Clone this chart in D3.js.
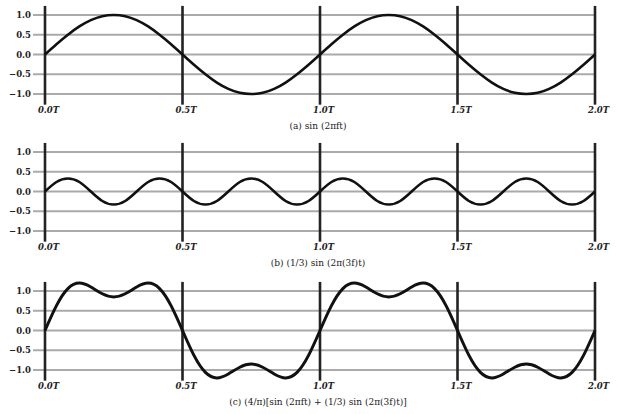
<!DOCTYPE html>
<html>
<head>
<meta charset="utf-8">
<script src="https://cdn.jsdelivr.net/npm/d3@7"></script>
<style>
  body { margin: 0; background: #fff; }
  text { font-family: "DejaVu Serif", serif; fill: #222; }
</style>
</head>
<body>
<div class="chart"></div>
<script>
var svgWidth = 640;
var svgHeight = 414;

// sample times in units of T (step T/24)
var times = d3.range(0, 49).map(k => k / 24);

// y tick labels & x tick labels
var yTicks = [1.0, 0.5, 0.0, -0.5, -1.0];
var xTicks = [0, 0.5, 1.0, 1.5, 2.0];
var xTickLabels = ["0.0T", "0.5T", "1.0T", "1.5T", "2.0T"];

// values
var seriesA = [0, 0.26, 0.5, 0.71, 0.87, 0.97, 1.0, 0.97, 0.87, 0.71, 0.5, 0.26,
  0, -0.26, -0.5, -0.71, -0.87, -0.97, -1.0, -0.97, -0.87, -0.71, -0.5, -0.26,
  0, 0.26, 0.5, 0.71, 0.87, 0.97, 1.0, 0.97, 0.87, 0.71, 0.5, 0.26,
  0, -0.26, -0.5, -0.71, -0.87, -0.97, -1.0, -0.97, -0.87, -0.71, -0.5, -0.26, 0];

var seriesB = [0, 0.24, 0.33, 0.24, 0, -0.24, -0.33, -0.24,
  0, 0.24, 0.33, 0.24, 0, -0.24, -0.33, -0.24,
  0, 0.24, 0.33, 0.24, 0, -0.24, -0.33, -0.24,
  0, 0.24, 0.33, 0.24, 0, -0.24, -0.33, -0.24,
  0, 0.24, 0.33, 0.24, 0, -0.24, -0.33, -0.24,
  0, 0.24, 0.33, 0.24, 0, -0.24, -0.33, -0.24, 0];

var seriesC = [0, 0.63, 1.06, 1.2, 1.1, 0.93, 0.85, 0.93, 1.1, 1.2, 1.06, 0.63,
  0, -0.63, -1.06, -1.2, -1.1, -0.93, -0.85, -0.93, -1.1, -1.2, -1.06, -0.63,
  0, 0.63, 1.06, 1.2, 1.1, 0.93, 0.85, 0.93, 1.1, 1.2, 1.06, 0.63,
  0, -0.63, -1.06, -1.2, -1.1, -0.93, -0.85, -0.93, -1.1, -1.2, -1.06, -0.63, 0];

var captions = [
  "(a) sin (2\u03C0ft)",
  "(b) (1/3) sin (2\u03C0(3f)t)",
  "(c) (4/\u03C0)[sin (2\u03C0ft) + (1/3) sin (2\u03C0(3f)t)]"
];

var panels = [
  { values: seriesA, top: 15, caption: captions[0], stroke: 2.6 },
  { values: seriesB, top: 152, caption: captions[1], stroke: 2.6 },
  { values: seriesC, top: 291, caption: captions[2], stroke: 3.0 }
];

var svg = d3.select(".chart")
  .append("svg")
  .attr("width", svgWidth)
  .attr("height", svgHeight);

var xScale = d3.scaleLinear().domain([0, 2]).range([45, 595]);
var panelH = 79;

panels.forEach(function (p) {
  var g = svg.append("g").attr("transform", `translate(0, ${p.top})`);

  var yScale = d3.scaleLinear().domain([-1, 1]).range([panelH, 0]);

  // horizontal grid lines
  g.selectAll(".hgrid")
    .data(yTicks)
    .enter()
    .append("line")
    .attr("x1", 33)
    .attr("x2", xScale(2))
    .attr("y1", d => yScale(d))
    .attr("y2", d => yScale(d))
    .attr("stroke", "#aaa")
    .attr("stroke-width", 2);

  // y labels
  var leftAxis = d3.axisLeft(yScale)
    .tickValues(yTicks)
    .tickSize(0)
    .tickPadding(0)
    .tickFormat(d3.format(".1f"));
  var yAxis = g.append("g")
    .attr("transform", "translate(31, 0)")
    .call(leftAxis);
  yAxis.select(".domain").remove();
  yAxis.selectAll("text")
    .attr("font-family", "DejaVu Serif")
    .attr("font-size", 8.5)
    .attr("font-weight", "bold")
    .attr("fill", "#333");

  // vertical period lines
  g.selectAll(".vline")
    .data(xTicks)
    .enter()
    .append("line")
    .attr("x1", d => xScale(d))
    .attr("x2", d => xScale(d))
    .attr("y1", yScale(1.23))
    .attr("y2", yScale(-1.27))
    .attr("stroke", "#222")
    .attr("stroke-width", 2.6);

  // x labels
  var bottomAxis = d3.axisBottom(xScale)
    .tickValues(xTicks)
    .tickSize(0)
    .tickPadding(0)
    .tickFormat((d, i) => xTickLabels[i]);
  var xAxis = g.append("g")
    .attr("transform", `translate(3, ${panelH + 13})`)
    .call(bottomAxis);
  xAxis.select(".domain").remove();
  xAxis.selectAll("text")
    .attr("font-family", "DejaVu Serif")
    .attr("font-size", 8.5)
    .attr("font-weight", "bold")
    .attr("font-style", "italic")
    .attr("fill", "#333");

  // waveform
  var line = d3.line()
    .x((d, i) => xScale(times[i]))
    .y(d => yScale(d))
    .curve(d3.curveNatural);

  g.append("path")
    .datum(p.values)
    .attr("d", line)
    .attr("fill", "none")
    .attr("stroke", "#111")
    .attr("stroke-width", p.stroke)
    .attr("stroke-linejoin", "round");

  // caption
  g.append("text")
    .attr("x", 318)
    .attr("y", panelH + 35)
    .attr("text-anchor", "middle")
    .attr("font-size", 9)
    .attr("fill", "#333")
    .text(p.caption);
});
</script>
</body>
</html>
